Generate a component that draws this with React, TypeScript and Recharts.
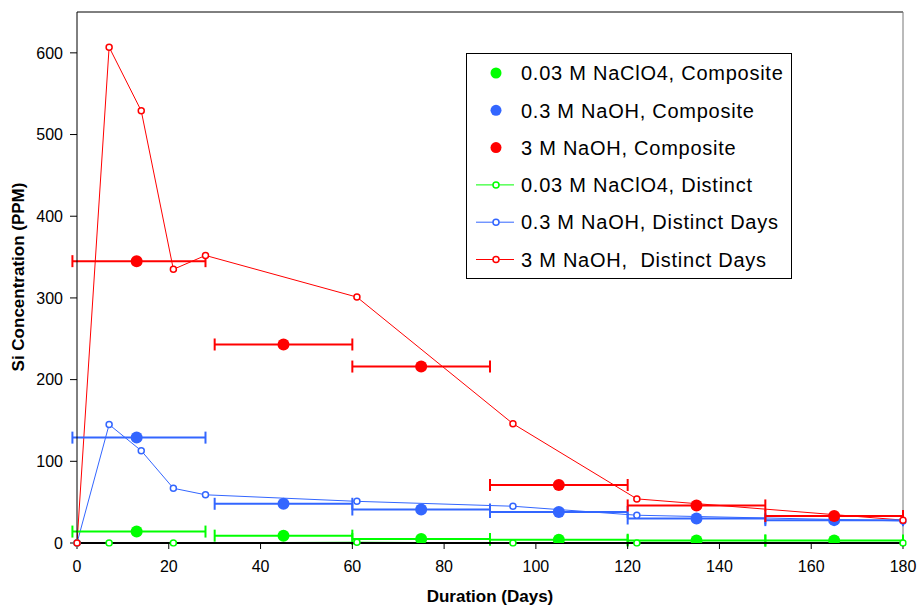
import React from 'react';
import {
  ComposedChart,
  Line,
  Scatter,
  XAxis,
  YAxis,
  ErrorBar,
  Legend,
  ReferenceLine,
} from 'recharts';

// ---- Data ----
const xTicks = [0, 20, 40, 60, 80, 100, 120, 140, 160, 180];
const yTicks = [0, 100, 200, 300, 400, 500, 600];

// Distinct-day samples
const distinctDaysRed = [0, 7, 14, 21, 28, 61, 95, 122, 180];
const red3MDistinct = [0, 607, 529, 335, 352, 301, 146, 54, 28];
const distinctDaysBlue = [0, 7, 14, 21, 28, 61, 95, 122, 180];
const blue03MDistinct = [0, 145, 113, 67, 59, 51, 45, 34, 27];
const distinctDaysGreen = [0, 7, 21, 61, 95, 122, 180];
const green003MDistinct = [0, 0, 0, 1, 0, 0, 0];

// Composite samples (centre day, interval start, interval end)
const compositeDays = [13, 45, 75, 105, 135, 165];
const compositeStart = [-1, 30, 60, 90, 120, 150];
const compositeEnd = [28, 60, 90, 120, 150, 180];
const green003MComposite = [14, 9, 5, 4, 3, 3];
const blue03MComposite = [129, 48, 41, 38, 30, 28];
const red3MComposite = [345, 243, 216, 71, 46, 33];

const GREEN = '#00ff00';
const BLUE = '#3366ff';
const RED = '#ff0000';
const FONT = "'Liberation Sans', Arial, sans-serif";

const toDistinct = (days: number[], vals: number[]) =>
  days.map((d, i) => ({ x: d, y: vals[i] }));

const toComposite = (vals: number[]) =>
  compositeDays.map((d, i) => ({
    x: d,
    y: vals[i],
    err: [d - compositeStart[i], compositeEnd[i] - d],
  }));

const redDistinct = toDistinct(distinctDaysRed, red3MDistinct);
const blueDistinct = toDistinct(distinctDaysBlue, blue03MDistinct);
const greenDistinct = toDistinct(distinctDaysGreen, green003MDistinct);
const greenComposite = toComposite(green003MComposite);
const blueComposite = toComposite(blue03MComposite);
const redComposite = toComposite(red3MComposite);

const legendItems = [
  { label: '0.03 M NaClO4, Composite', color: GREEN, kind: 'dot' },
  { label: '0.3 M NaOH, Composite', color: BLUE, kind: 'dot' },
  { label: '3 M NaOH, Composite', color: RED, kind: 'dot' },
  { label: '0.03 M NaClO4, Distinct', color: GREEN, kind: 'line' },
  { label: '0.3 M NaOH, Distinct Days', color: BLUE, kind: 'line' },
  { label: '3 M NaOH,  Distinct Days', color: RED, kind: 'line' },
];

const LegendBox = () => (
  <svg width={327} height={227} style={{ display: 'block' }}>
    <rect x={0.5} y={0.5} width={325} height={225} fill="#fff" stroke="#000" strokeWidth={1} />
    {legendItems.map((it, i) => {
      const cy = 20 + i * 37.3;
      return (
        <g key={it.label}>
          {it.kind === 'dot' ? (
            <circle cx={30} cy={cy} r={5.5} fill={it.color} />
          ) : (
            <g>
              <line x1={10} x2={48} y1={cy} y2={cy} stroke={it.color} strokeWidth={1} />
              <circle cx={30} cy={cy} r={3} fill="#fff" stroke={it.color} strokeWidth={1.5} />
            </g>
          )}
          <text
            x={55}
            y={cy}
            dy="0.36em"
            fontSize={20}
            letterSpacing={0.75}
            fontFamily={FONT}
            fill="#000"
            style={{ whiteSpace: 'pre' }}
          >
            {it.label}
          </text>
        </g>
      );
    })}
  </svg>
);

const bigDot = (color: string) => (props: any) =>
  <circle cx={props.cx} cy={props.cy} r={6} fill={color} />;

const openDot = (color: string) => ({
  r: 3,
  fill: '#fff',
  stroke: color,
  strokeWidth: 1.5,
  clipDot: false,
});

export default function App() {
  return (
    <div style={{ position: 'absolute', left: 0, top: 0, width: 918, height: 605, background: '#fff' }}>
      <ComposedChart
        width={918}
        height={605}
        margin={{ top: 12, right: 15, left: 0, bottom: 0 }}
        style={{ fontFamily: FONT }}
      >
        <XAxis
          type="number"
          dataKey="x"
          domain={[0, 180]}
          ticks={xTicks}
          allowDataOverflow
          height={62}
          tickSize={6}
          tickMargin={12}
          stroke="#000"
          strokeWidth={2}
          tick={{ fontSize: 16, fill: '#000', fontFamily: FONT }}
          tickLine={{ stroke: '#000', strokeWidth: 1 }}
          label={{
            content: () => (
              <text x={490} y={602} textAnchor="middle" fontSize={17} fontWeight="bold" fontFamily={FONT} fill="#000">
                Duration (Days)
              </text>
            ),
          }}
        />
        <YAxis
          type="number"
          dataKey="y"
          domain={[0, 650]}
          ticks={yTicks}
          allowDataOverflow
          width={77}
          tickSize={7}
          tickMargin={7}
          stroke="#000"
          tick={{ fontSize: 16, fill: '#000', fontFamily: FONT }}
          label={{
            content: () => (
              <text
                x={24}
                y={277}
                transform="rotate(-90 24 277)"
                textAnchor="middle"
                fontSize={17}
                fontWeight="bold"
                fontFamily={FONT}
                fill="#000"
              >
                Si Concentration (PPM)
              </text>
            ),
          }}
        />
        <ReferenceLine y={650} stroke="#000" strokeWidth={1} />
        <ReferenceLine x={180} stroke="#777" strokeWidth={1} />

        <Line
          data={greenDistinct}
          dataKey="y"
          type="linear"
          stroke={GREEN}
          strokeWidth={1}
          dot={openDot(GREEN)}
          isAnimationActive={false}
        />
        <Line
          data={blueDistinct}
          dataKey="y"
          type="linear"
          stroke={BLUE}
          strokeWidth={1}
          dot={openDot(BLUE)}
          isAnimationActive={false}
        />
        <Line
          data={redDistinct}
          dataKey="y"
          type="linear"
          stroke={RED}
          strokeWidth={1}
          dot={openDot(RED)}
          isAnimationActive={false}
        />

        <Scatter data={greenComposite} dataKey="y" fill={GREEN} shape={bigDot(GREEN)} isAnimationActive={false}>
          <ErrorBar dataKey="err" direction="x" width={6} stroke={GREEN} strokeWidth={2} />
        </Scatter>
        <Scatter data={blueComposite} dataKey="y" fill={BLUE} shape={bigDot(BLUE)} isAnimationActive={false}>
          <ErrorBar dataKey="err" direction="x" width={6} stroke={BLUE} strokeWidth={2} />
        </Scatter>
        <Scatter data={redComposite} dataKey="y" fill={RED} shape={bigDot(RED)} isAnimationActive={false}>
          <ErrorBar dataKey="err" direction="x" width={6} stroke={RED} strokeWidth={2} />
        </Scatter>

        <Legend
          layout="vertical"
          align="center"
          verticalAlign="middle"
          content={() => <LegendBox />}
          wrapperStyle={{ position: 'absolute', left: 466, top: 53, width: 327, height: 227 }}
        />
      </ComposedChart>
    </div>
  );
}
